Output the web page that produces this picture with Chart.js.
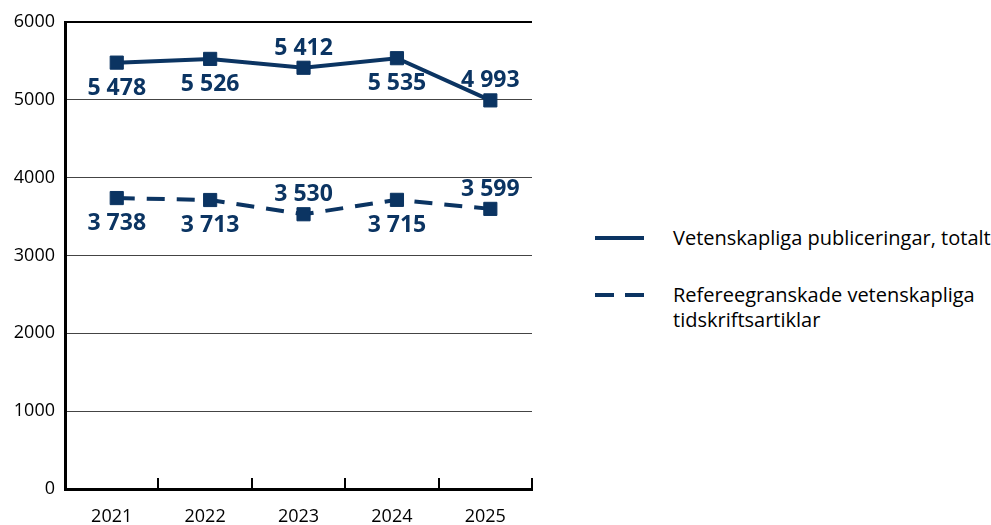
<!DOCTYPE html>
<html lang="sv">
<head>
<meta charset="utf-8">
<title>Vetenskapliga publiceringar 2021–2025</title>
<script src="https://cdn.jsdelivr.net/npm/chart.js@4.4.1/dist/chart.umd.min.js"></script>
<style>
  html, body { margin: 0; padding: 0; background: #fff; }
  body { width: 991px; height: 525px; position: relative; overflow: hidden; font-family: "Open Sans", sans-serif; }
  #chartBox { position: absolute; left: 0; top: 0; width: 545px; height: 525px; }
  #legend { position: absolute; left: 595px; top: 225px; color: #000; font-size: 20px; line-height: 25px; }
  .leg-item { display: flex; align-items: flex-start; margin-bottom: 32px; }
  .swatch { flex: none; width: 49px; height: 4px; margin-top: 11px; margin-right: 29px; }
  .solid { background: #0b3462; }
  .dashed { background: linear-gradient(to right, #0b3462 0 19px, transparent 19px 30px, #0b3462 30px 49px); }
</style>
</head>
<body>
<div id="chartBox"><canvas id="pubChart" width="545" height="525"></canvas></div>
<div id="legend">
  <div class="leg-item"><span class="swatch solid"></span><span>Vetenskapliga publiceringar, totalt</span></div>
  <div class="leg-item"><span class="swatch dashed"></span><span>Refereegranskade vetenskapliga<br>tidskriftsartiklar</span></div>
</div>
<script>
// data
const years = [2021, 2022, 2023, 2024, 2025];
const totalPubs = [5478, 5526, 5412, 5535, 4993];
const reviewedArticles = [3738, 3713, 3530, 3715, 3599];
const yTicks = [0, 1000, 2000, 3000, 4000, 5000, 6000];

// where each value label sits relative to its marker
const totalLabelPos = ['below', 'below', 'above', 'below', 'above'];
const reviewedLabelPos = ['below', 'below', 'above', 'below', 'above'];

const NAVY = '#0b3462';
const POINT_SHIFT = 0.054; // markers sit a few px right of the category centre in the original

function fmt(n) {
  // Swedish thousands separator
  return String(n).replace(/\B(?=(\d{3})+(?!\d))/g, ' ');
}

const valueLabels = {
  id: 'valueLabels',
  afterDatasetsDraw(chart) {
    const ctx = chart.ctx;
    ctx.save();
    ctx.fillStyle = NAVY;
    ctx.font = 'bold 23px "Open Sans", sans-serif';
    ctx.textAlign = 'center';
    ctx.textBaseline = 'alphabetic';
    chart.data.datasets.forEach((ds, d) => {
      const meta = chart.getDatasetMeta(d);
      meta.data.forEach((pt, i) => {
        const below = ds.labelPos[i] === 'below';
        ctx.fillText(fmt(ds.data[i].y), pt.x, below ? pt.y + 32 : pt.y - 13);
      });
    });
    ctx.restore();
  }
};

const pts = arr => years.map((yr, i) => ({ x: yr, y: arr[i] }));

new Chart(document.getElementById('pubChart'), {
  type: 'line',
  data: {
    labels: years.map(String),
    datasets: [
      {
        label: 'Vetenskapliga publiceringar, totalt',
        data: pts(totalPubs),
        labelPos: totalLabelPos,
        xAxisID: 'xd',
        borderColor: NAVY,
        backgroundColor: NAVY,
        borderWidth: 4,
        pointStyle: 'rect',
        pointRadius: 9.3,
        pointBorderWidth: 1,
        tension: 0
      },
      {
        label: 'Refereegranskade vetenskapliga tidskriftsartiklar',
        data: pts(reviewedArticles),
        labelPos: reviewedLabelPos,
        xAxisID: 'xd',
        borderColor: NAVY,
        backgroundColor: NAVY,
        borderWidth: 4,
        borderDash: [18, 12],
        pointStyle: 'rect',
        pointRadius: 9.3,
        pointBorderWidth: 1,
        tension: 0
      }
    ]
  },
  options: {
    responsive: false,
    animation: false,
    events: [],
    layout: { padding: { top: 22, right: 13, left: 0, bottom: 0 } },
    plugins: { legend: { display: false }, tooltip: { enabled: false } },
    scales: {
      x: {
        type: 'category',
        offset: true,
        afterFit: s => { s.height = 36; },
        border: { display: true, color: '#000', width: 3 },
        grid: { offset: true, drawOnChartArea: false, drawTicks: true, tickLength: -11, color: '#000', lineWidth: 2 },
        ticks: { color: '#000', padding: 28, font: { family: '"Open Sans", sans-serif', size: 18 } }
      },
      xd: {
        type: 'linear',
        display: false,
        min: years[0] - 0.5 - POINT_SHIFT,
        max: years[years.length - 1] + 0.5 - POINT_SHIFT
      },
      y: {
        min: yTicks[0],
        max: yTicks[yTicks.length - 1],
        afterFit: s => { s.width = 65; },
        afterBuildTicks: s => { s.ticks = yTicks.map(v => ({ value: v })); },
        border: { display: true, color: '#000', width: 3 },
        grid: {
          drawTicks: false,
          color: c => c.tick && c.tick.value === 6000 ? '#000' : '#444',
          lineWidth: c => c.tick && c.tick.value === 6000 ? 2 : 1
        },
        ticks: {
          color: '#000',
          padding: 10,
          font: { family: '"Open Sans", sans-serif', size: 18 },
          callback: v => String(v)
        }
      }
    }
  },
  plugins: [valueLabels]
});
</script>
</body>
</html>
